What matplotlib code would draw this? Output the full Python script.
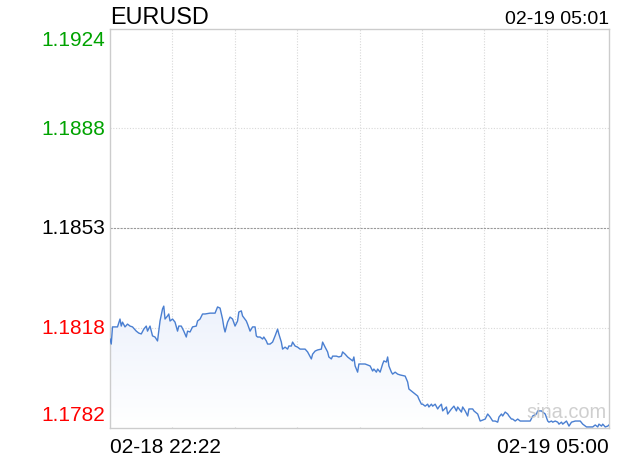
import numpy as np
import matplotlib
matplotlib.use("Agg")
import matplotlib.pyplot as plt
from matplotlib.patches import Polygon
from matplotlib.colors import LinearSegmentedColormap

plt.rcParams["font.family"] = ["Liberation Sans", "DejaVu Sans"]

symbol = "EURUSD"
stamp = "02-19 05:01"
start_label = "02-18 22:22"
end_label = "02-19 05:00"

# minutes after 02-18 22:22
minutes = [0, 1, 2, 5, 6, 8, 9, 10, 12, 14, 16, 18, 21, 23, 25, 27, 29, 30, 32, 34,
           36, 38, 40, 42, 43, 44, 46, 47, 48, 50, 52, 54, 55, 57, 59, 61, 62, 64, 66, 69,
           70, 72, 74, 76, 80, 84, 86, 88, 90, 91, 92, 94, 96, 98, 100, 102, 103, 105, 106, 109,
           110, 112, 114, 116, 117, 118, 120, 122, 123, 125, 126, 128, 130, 132, 134, 135, 137, 138, 140, 142,
           143, 145, 146, 148, 150, 152, 156, 158, 161, 162, 164, 166, 169, 170, 172, 174, 175, 177, 178, 181,
           183, 185, 186, 188, 190, 192, 194, 195, 196, 198, 199, 204, 208, 210, 211, 213, 214, 216, 218, 219,
           221, 222, 223, 225, 226, 228, 230, 232, 236, 238, 239, 241, 242, 244, 246, 247, 249, 250, 252, 254,
           255, 257, 258, 260, 262, 263, 265, 266, 269, 270, 273, 275, 277, 278, 281, 282, 284, 286, 287, 290,
           291, 294, 296, 300, 302, 304, 306, 308, 310, 311, 313, 314, 316, 318, 319, 321, 322, 324, 326, 328,
           332, 336, 338, 341, 342, 345, 346, 348, 350, 351, 353, 354, 356, 358, 359, 361, 362, 365, 367, 369,
           372, 376, 378, 381, 384, 386, 388, 390, 391, 393, 394, 396, 398, 399]

prices = [1.18135, 1.18117, 1.18178, 1.18178, 1.18178, 1.18206, 1.18181, 1.18195, 1.18178, 1.18188,
          1.18181, 1.18178, 1.18163, 1.18156, 1.18153, 1.18170, 1.18181, 1.18163, 1.18181, 1.18146,
          1.18142, 1.18128, 1.18199, 1.18242, 1.18252, 1.18206, 1.18217, 1.18224, 1.18199, 1.18206,
          1.18195, 1.18163, 1.18181, 1.18181, 1.18163, 1.18142, 1.18163, 1.18160, 1.18178, 1.18181,
          1.18199, 1.18206, 1.18224, 1.18224, 1.18227, 1.18227, 1.18249, 1.18245, 1.18206, 1.18178,
          1.18160, 1.18195, 1.18213, 1.18206, 1.18181, 1.18199, 1.18231, 1.18235, 1.18217, 1.18199,
          1.18188, 1.18163, 1.18178, 1.18178, 1.18146, 1.18142, 1.18142, 1.18135, 1.18142, 1.18128,
          1.18117, 1.18117, 1.18124, 1.18146, 1.18170, 1.18153, 1.18124, 1.18099, 1.18106, 1.18099,
          1.18110, 1.18110, 1.18124, 1.18110, 1.18106, 1.18099, 1.18099, 1.18089, 1.18064, 1.18081,
          1.18092, 1.18096, 1.18099, 1.18124, 1.18106, 1.18089, 1.18071, 1.18064, 1.18074, 1.18074,
          1.18071, 1.18074, 1.18089, 1.18081, 1.18071, 1.18064, 1.18057, 1.18071, 1.18039, 1.18017,
          1.18046, 1.18046, 1.18039, 1.18021, 1.18028, 1.18017, 1.18028, 1.18017, 1.18046, 1.18057,
          1.18053, 1.18071, 1.18039, 1.18017, 1.18010, 1.18017, 1.18010, 1.18007, 1.18003, 1.17982,
          1.17957, 1.17950, 1.17946, 1.17939, 1.17932, 1.17921, 1.17903, 1.17903, 1.17896, 1.17903,
          1.17893, 1.17903, 1.17896, 1.17903, 1.17886, 1.17893, 1.17903, 1.17879, 1.17893, 1.17868,
          1.17886, 1.17896, 1.17879, 1.17893, 1.17875, 1.17893, 1.17879, 1.17861, 1.17886, 1.17886,
          1.17879, 1.17868, 1.17843, 1.17850, 1.17868, 1.17857, 1.17843, 1.17843, 1.17839, 1.17857,
          1.17868, 1.17861, 1.17875, 1.17868, 1.17861, 1.17850, 1.17850, 1.17843, 1.17850, 1.17843,
          1.17843, 1.17843, 1.17861, 1.17868, 1.17879, 1.17879, 1.17875, 1.17868, 1.17843, 1.17839,
          1.17843, 1.17839, 1.17843, 1.17839, 1.17832, 1.17839, 1.17832, 1.17843, 1.17825, 1.17839,
          1.17843, 1.17843, 1.17832, 1.17822, 1.17822, 1.17822, 1.17829, 1.17822, 1.17832, 1.17825,
          1.17832, 1.17822, 1.17825, 1.17829]

y_ticks = [1.1924, 1.18885, 1.1853, 1.18175, 1.1782]
y_labels = ["1.1924", "1.1888", "1.1853", "1.1818", "1.1782"]
y_colors = ["#00a300", "#00a300", "#000000", "#ff0000", "#ff0000"]

t_end = 399
y_lo, y_hi = 1.1782, 1.1924

fig = plt.figure(figsize=(6.2, 4.6), dpi=100)
ax = fig.add_axes([110 / 620, 31.5 / 460, 499 / 620, 399 / 460])
ax.set_xlim(0, t_end)
ax.set_ylim(y_lo, y_hi)

# soft fill under the line, fading to white
grad = np.linspace(1, 0, 256).reshape(-1, 1)
cmap = LinearSegmentedColormap.from_list("fade", ["#ffffff", "#edf2fc"])
top = max(prices)
im = ax.imshow(grad, cmap=cmap, aspect="auto", extent=[0, t_end, y_lo, top],
               origin="upper", zorder=1)
poly = Polygon(np.column_stack([[0] + minutes + [t_end], [y_lo] + prices + [y_lo]]),
               closed=True, facecolor="none", edgecolor="none")
ax.add_patch(poly)
im.set_clip_path(poly)

ax.plot(minutes, prices, color="#4a7fd1", lw=1.0, zorder=3)

# grid
for i in range(1, 8):
    ax.axvline(t_end * i / 8, color="#d8d8d8", lw=0.8, ls=(0, (1, 1.5)), zorder=0)
for v in (y_ticks[1], y_ticks[3]):
    ax.axhline(v, color="#d8d8d8", lw=0.8, ls=(0, (1, 1.5)), zorder=0)
ax.axhline(y_ticks[2], color="#999999", lw=0.8, ls=(0, (2, 1)), zorder=0)

for s in ax.spines.values():
    s.set_color("#cccccc")
    s.set_linewidth(1)
ax.set_xticks([])
ax.set_yticks([])

offsets = [-11, 0, 0, 0, 13]
for v, lab, c, off in zip(y_ticks, y_labels, y_colors, offsets):
    ax.annotate(lab, xy=(0, v), xycoords=("axes fraction", "data"),
                xytext=(-5, off), textcoords="offset pixels",
                ha="right", va="center", fontsize=15, color=c)

fig.text(110 / 620, 1 - 23.5 / 460, symbol, ha="left", va="baseline", fontsize=16.8)
fig.text(609 / 620, 1 - 23.5 / 460, stamp, ha="right", va="baseline", fontsize=14)
fig.text(110 / 620, 1 - 453 / 460, start_label, ha="left", va="baseline", fontsize=15)
fig.text(609 / 620, 1 - 453 / 460, end_label, ha="right", va="baseline", fontsize=15)

ax.text(0.915, 0.04, "sina.com", transform=ax.transAxes, ha="center", va="center",
        fontsize=14.4, color="#c4c4c4", alpha=0.8, zorder=4)

fig.savefig("out.png", dpi=100)
